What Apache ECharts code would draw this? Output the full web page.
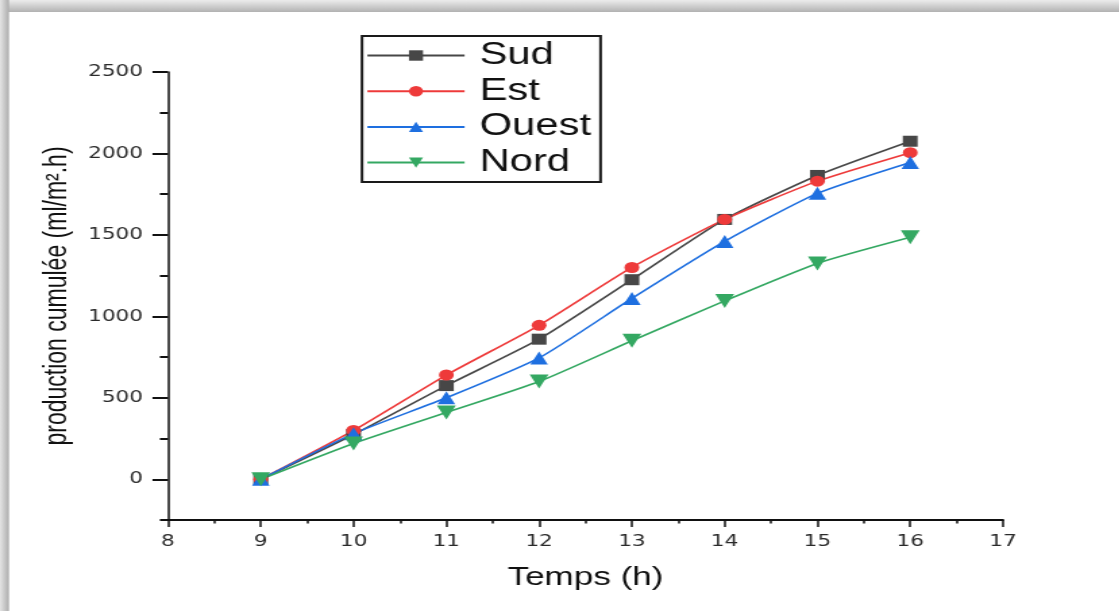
<!DOCTYPE html>
<html>
<head>
<meta charset="utf-8">
<script src="https://cdn.jsdelivr.net/npm/echarts@6/dist/echarts.min.js"></script>
<style>
  html, body { margin: 0; padding: 0; background: #fff; overflow: hidden; }
  /* the figure is drawn at a narrower width and widened horizontally */
  #chart { width: 829px; height: 611px; transform: scaleX(1.35); transform-origin: 0 0; }
</style>
</head>
<body>
<div id="chart"></div>
<script>
// hours of the day
const hours = [9, 10, 11, 12, 13, 14, 15, 16];

// cumulative production (ml/m².h) per orientation
const sud   = [0, 275, 575, 860, 1225, 1595, 1865, 2075];
const est   = [0, 300, 640, 945, 1300, 1595, 1830, 2005];
const ouest = [0, 280, 500, 745, 1110, 1460, 1755, 1945];
const nord  = [0, 220, 410, 600, 850, 1095, 1325, 1485];

const seriesNames = ['Sud', 'Est', 'Ouest', 'Nord'];
const seriesValues = [sud, est, ouest, nord];

// labelled (major) and intermediate (minor) ticks of the y axis
const yMajorTicks = [0, 500, 1000, 1500, 2000, 2500];
const yMinorTicks = [-250, 250, 750, 1250, 1750, 2250];

const STRETCH = 1.35;
const W = 829, H = 611;
const sansFont = '"Liberation Sans", Arial, sans-serif';
const tickFont = '"DejaVu Sans", Verdana, sans-serif';

const looks = [
  { color: '#474747', symbol: 'rect',     size: 11, rotate: 0 },
  { color: '#ee3a3a', symbol: 'circle',   size: 11, rotate: 0 },
  { color: '#1e6fe0', symbol: 'triangle', size: 13, rotate: 0 },
  { color: '#34a862', symbol: 'triangle', size: 14, rotate: 180 }
];

const chart = echarts.init(document.getElementById('chart'));

const yBase = {
  type: 'value', position: 'left', min: -250, max: 2500, interval: 250,
  splitLine: { show: false }
};

chart.setOption({
  animation: false,
  backgroundColor: '#fff',
  graphic: [
    { type: 'rect', left: 0, top: 0, silent: true, z: 100,
      shape: { x: 0, y: 0, width: W, height: 12 },
      style: { fill: new echarts.graphic.LinearGradient(0, 0, 0, 1, [
        { offset: 0, color: '#ececec' }, { offset: 1, color: '#b2b2b2' }]) } },
    { type: 'rect', left: 0, top: 0, silent: true, z: 100,
      shape: { x: 0, y: 0, width: 9 / STRETCH, height: H },
      style: { fill: new echarts.graphic.LinearGradient(0, 0, 1, 0, [
        { offset: 0, color: '#e4e4e4' }, { offset: 1, color: '#adadad' }]) } }
  ],
  grid: { left: 168 / STRETCH, right: W - 1003 / STRETCH, top: 72, bottom: 91, containLabel: false },
  legend: {
    orient: 'vertical', left: 362 / STRETCH, top: 36,
    data: seriesNames, selectedMode: false,
    itemWidth: 72, itemHeight: 13, itemGap: 4.7,
    padding: [4, 7, 4, 3],
    borderColor: '#1a1a1a', borderWidth: 2, backgroundColor: '#fff',
    textStyle: { fontFamily: sansFont, fontSize: 31, lineHeight: 31, color: '#111', padding: [0, 0, 0, 6] }
  },
  xAxis: {
    type: 'value', min: 8, max: 17, interval: 1,
    name: 'Temps (h)', nameLocation: 'middle', nameGap: 45,
    nameTextStyle: { fontFamily: sansFont, fontSize: 26, color: '#111' },
    axisLine: { show: true, onZero: false, lineStyle: { color: '#111', width: 2 } },
    axisTick: { show: true, length: 7, lineStyle: { color: '#111', width: 1.5 } },
    minorTick: { show: true, splitNumber: 2, length: 3.5, lineStyle: { color: '#111', width: 1.5 } },
    axisLabel: { margin: 14, fontFamily: tickFont, fontSize: 16, color: '#2a2a2a' },
    splitLine: { show: false }
  },
  yAxis: [
    Object.assign({}, yBase, {
      name: 'production cumulée (ml/m².h)', nameLocation: 'middle', nameGap: 48,
      nameTextStyle: { fontFamily: sansFont, fontSize: 23, color: '#111' },
      axisLine: { show: true, onZero: false, lineStyle: { color: '#111', width: 1.5 } },
      axisTick: { show: true, length: 6, customValues: yMinorTicks, lineStyle: { color: '#111', width: 2 } },
      axisLabel: {
        margin: 18.5, fontFamily: tickFont, fontSize: 16, color: '#2a2a2a',
        customValues: yMajorTicks,
        formatter: v => String(v)
      }
    }),
    Object.assign({}, yBase, {
      axisLine: { show: false },
      axisTick: { show: true, length: 11.5, customValues: yMajorTicks, lineStyle: { color: '#111', width: 2 } },
      axisLabel: { show: false }
    })
  ],
  series: seriesValues.map((vals, i) => ({
    name: seriesNames[i], type: 'line',
    xAxisIndex: 0, yAxisIndex: 0,
    data: hours.map((h, k) => [h, vals[k]]),
    smooth: 0.2,
    symbol: looks[i].symbol, symbolSize: looks[i].size, symbolRotate: looks[i].rotate,
    showSymbol: true,
    lineStyle: { color: looks[i].color, width: 1.6 },
    itemStyle: { color: looks[i].color }
  }))
});
</script>
</body>
</html>
